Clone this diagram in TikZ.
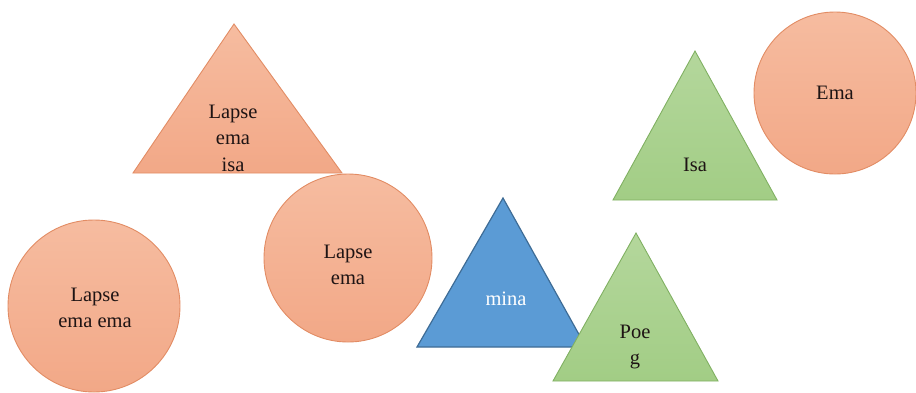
\documentclass[tikz,border=0pt]{standalone}
\usepackage{fontspec}
\setmainfont{Liberation Serif}
\newfontfamily\labelface{Liberation Serif}
\definecolor{orTop}{RGB}{246,188,160}
\definecolor{orBot}{RGB}{242,168,135}
\definecolor{orLine}{RGB}{226,140,100}
\definecolor{grTop}{RGB}{180,215,156}
\definecolor{grBot}{RGB}{162,205,133}
\definecolor{grLine}{RGB}{128,176,98}
\definecolor{blFill}{RGB}{91,155,213}
\definecolor{blLine}{RGB}{62,108,150}
\definecolor{ink}{RGB}{30,20,20}
\tikzset{
  orshape/.style={top color=orTop, bottom color=orBot, draw=orLine, line width=0.9pt},
  grshape/.style={top color=grTop, bottom color=grBot, draw=grLine, line width=0.9pt},
  blshape/.style={fill=blFill, draw=blLine, line width=1.2pt},
  lbl/.style={align=center, text=ink, inner sep=0pt, font=\labelface\fontsize{20.5}{26.5}\selectfont},
}
\begin{document}
\begin{tikzpicture}[x=1pt,y=-1pt]
\useasboundingbox (0,0) rectangle (916,392);
% orange shapes
\path[orshape] (234,24) -- (342,173) -- (133,173) -- cycle;
\path[orshape] (348,258) circle[radius=84];
\path[orshape] (94,306) circle[radius=86];
\path[orshape] (835,93) circle[radius=81];
% blue triangle, partly covered by the green one
\path[blshape] (503,198) -- (586,347) -- (417,347) -- cycle;
% green triangles
\path[grshape] (636,233) -- (718,381) -- (553,381) -- cycle;
\path[grshape] (695,51) -- (777,200) -- (613,200) -- cycle;
% labels
\node[lbl] (t1) at (233,138) {Lapse\\ema\\isa};
\node[lbl] (c2) at (348,265) {Lapse\\ema};
\node[lbl] (c3) at (95,308) {Lapse\\ema ema};
\node[lbl, text=white] (b1) at (506,299) {mina};
\node[lbl] (g1) at (635,347) {Poe\\g};
\node[lbl] (g2) at (695,165) {Isa};
\node[lbl] (c4) at (835,93) {Ema};
\end{tikzpicture}
\end{document}
